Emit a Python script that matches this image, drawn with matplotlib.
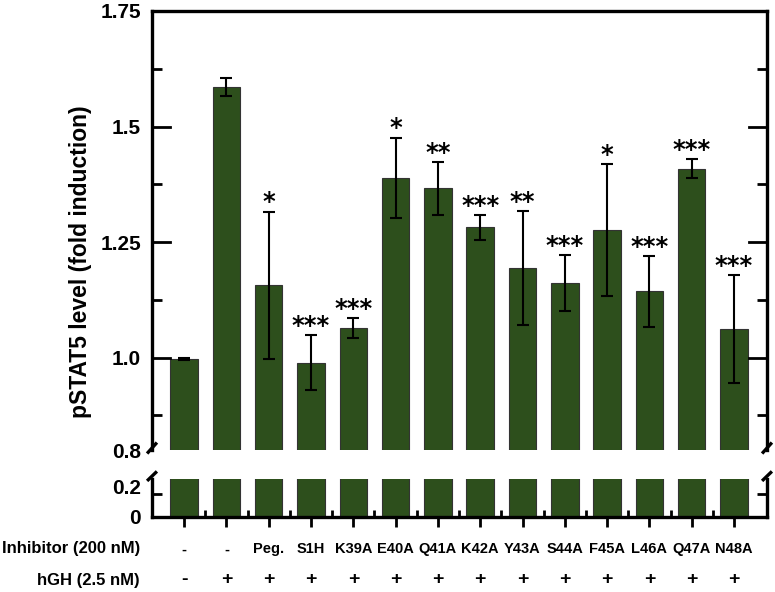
import numpy as np
import matplotlib
matplotlib.use("Agg")
import matplotlib.pyplot as plt

plt.rcParams['font.family'] = ['Liberation Sans', 'DejaVu Sans']
plt.rcParams['font.weight'] = 'bold'

# data
inhibitor = ['-', '-', 'Peg.', 'S1H', 'K39A', 'E40A', 'Q41A', 'K42A',
             'Y43A', 'S44A', 'F45A', 'L46A', 'Q47A', 'N48A']
hgh = ['-', '+', '+', '+', '+', '+', '+', '+', '+', '+', '+', '+', '+', '+']
means = [0.997, 1.586, 1.156, 0.989, 1.064, 1.389, 1.366, 1.282,
         1.194, 1.161, 1.276, 1.143, 1.409, 1.061]
errs = [0.002, 0.020, 0.160, 0.060, 0.021, 0.087, 0.057, 0.027,
        0.123, 0.061, 0.142, 0.076, 0.021, 0.117]
stars = ['', '', '*', '***', '***', '*', '**', '***',
         '**', '***', '*', '***', '***', '***']

bar_color = '#2d4f1c'
x = np.arange(len(means))

fig = plt.figure(figsize=(7.75, 5.92), dpi=100)
W, H = 775.0, 592.0
left, right = 152 / W, 767 / W
ax_top = fig.add_axes([left, 1 - 450 / H, right - left, (450 - 11) / H])
ax_bot = fig.add_axes([left, 1 - 517 / H, right - left, (517 - 479) / H])

for ax in (ax_top, ax_bot):
    ax.bar(x, means, width=0.65, color=bar_color, edgecolor='#333333',
           linewidth=0.8, zorder=2)
    ax.set_xlim(-0.76, 13.78)
    for s in ax.spines.values():
        s.set_linewidth(2.4)

# error bars and significance only in upper panel
ax_top.errorbar(x, means, yerr=errs, fmt='none', ecolor='black',
                elinewidth=1.5, capsize=4, capthick=1.5, zorder=3)
for xi, m, e, s in zip(x, means, errs, stars):
    if s:
        ax_top.text(xi, m + e - 0.006, s, ha='center', va='bottom',
                    fontsize=17.5, fontweight='bold', family='DejaVu Sans')

ax_top.set_ylim(0.8, 1.75)
ax_top.set_yticks([0.8, 1.0, 1.25, 1.5, 1.75])
ax_top.set_yticklabels(['0.8', '1.0', '1.25', '1.5', '1.75'])
ax_top.set_yticks([0.875, 1.125, 1.375, 1.625], minor=True)
ax_top.spines['bottom'].set_visible(False)
ax_top.tick_params(axis='x', bottom=False, labelbottom=False)
ax_top.tick_params(axis='y', which='both', direction='in', left=True,
                   right=True, length=7, width=2, labelsize=15, pad=8)
ax_top.tick_params(axis='y', which='major', length=0)
ax_top.tick_params(axis='y', which='minor', length=7)
# show major ticks except the one at the break
for yv in [1.0, 1.25, 1.5]:
    ax_top.plot([0, 0.03], [yv, yv], transform=ax_top.get_yaxis_transform(),
                color='black', lw=2, clip_on=False)
    ax_top.plot([0.97, 1.0], [yv, yv], transform=ax_top.get_yaxis_transform(),
                color='black', lw=2, clip_on=False)
ax_top.set_ylabel('pSTAT5 level (fold induction)', fontsize=16.5,
                  fontweight='bold', labelpad=6)
ax_top.yaxis.label.set_position((0, 0.43))

ax_bot.set_ylim(0, 0.25)
ax_bot.set_yticks([0, 0.2])
ax_bot.set_yticklabels(['0', '0.2'])
ax_bot.set_yticks([0.15], minor=True)
ax_bot.spines['top'].set_visible(False)
ax_bot.tick_params(axis='y', which='major', length=0, labelsize=15, pad=8,
                   left=True, right=True)
ax_bot.tick_params(axis='y', which='minor', direction='in', length=7,
                   width=2, left=True, right=True)
ax_bot.set_xticks(x)
ax_bot.set_xticks(x[:-1] + 0.5, minor=True)
ax_bot.tick_params(axis='x', which='major', direction='out', length=7,
                   width=2, labelbottom=False)
ax_bot.tick_params(axis='x', which='minor', direction='in', length=5,
                   width=2)

# break marks
kw = dict(color='black', lw=2.4, clip_on=False, solid_capstyle='butt')
for xs in (0, 1):
    ax_top.plot([xs - 0.008, xs + 0.008], [-0.008, 0.017],
                transform=ax_top.transAxes, **kw)
    ax_bot.plot([xs - 0.008, xs + 0.008], [0.95, 1.2],
                transform=ax_bot.transAxes, **kw)

# treatment rows
tr = ax_bot.get_xaxis_transform()
row1, row2 = -0.85, -1.65
for xi, a, b in zip(x, inhibitor, hgh):
    ax_bot.text(xi, row1, a, transform=tr, ha='center', va='center',
                fontsize=10.5, fontweight='bold')
    ax_bot.text(xi, row2, b, transform=tr, ha='center', va='center',
                fontsize=14, fontweight='bold')
fig.text(140 / W, 1 - 549 / H, 'Inhibitor (200 nM)', ha='right',
         va='center', fontsize=12, fontweight='bold')
fig.text(140 / W, 1 - 580 / H, 'hGH (2.5 nM)', ha='right',
         va='center', fontsize=12, fontweight='bold')

fig.savefig('out.png', dpi=100)
